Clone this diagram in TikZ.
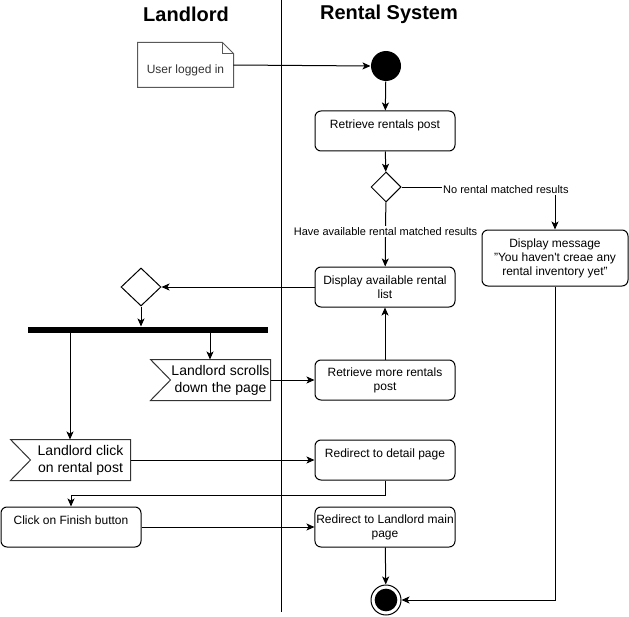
\documentclass[tikz,border=0pt]{standalone}
\usepackage{fontspec}
\setmainfont{Liberation Sans}
\usetikzlibrary{shapes.geometric,arrows.meta}

\tikzset{
  flow/.style={-{Stealth[length=6pt,width=5.25pt,inset=1.5pt]}},
  act/.style={draw, rounded corners=4.5pt, minimum width=105pt, minimum height=30pt, inner sep=1pt, align=center, font=\fontsize{9}{10.5}\selectfont},
  evt/.style={minimum width=74.25pt, minimum height=30pt, inner sep=0pt, align=center, font=\fontsize{10.5}{12.75}\selectfont},
  evtline/.style={draw=black!80},
  choice/.style={draw, diamond, inner sep=0pt, minimum width=22.5pt, minimum height=22.5pt},
  lbl/.style={fill=white, inner sep=1pt, font=\fontsize{8.25}{10}\selectfont},
  lane/.style={font=\fontsize{15}{18}\selectfont\bfseries},
}

\begin{document}
\begin{tikzpicture}[x=0.75pt, y=-0.75pt, line width=0.75pt]
\useasboundingbox (0,0) rectangle (629,617);

% swimlanes
\draw (281,0) -- (281,612);
\node[lane] (landlord) at (186,14) {Landlord};
\node[lane] (system) at (389,14) {Rental System};

% start note
\node[minimum width=71.25pt, minimum height=33pt, inner sep=0pt] (note) at (185.5,65) {};
\draw[draw=black!65] (note.south west) -- (note.north west) -- ([xshift=-8.25pt]note.north east) -- ([yshift=-8.25pt]note.north east) -- (note.south east) -- cycle;
\draw[draw=black!65] ([xshift=-8.25pt]note.north east) -- ([xshift=-8.25pt,yshift=-8.25pt]note.north east) -- ([yshift=-8.25pt]note.north east);
\node[font=\fontsize{9}{10.5}\selectfont, text=black!80] (notetext) at (185.5,70) {User logged in};

% rental system lane
\node[circle, fill=black, minimum size=22.5pt, inner sep=0pt] (start) at (386,66) {};
\node[act] (retrieve) at (385,131) {Retrieve rentals post\\\mbox{}};
\node[choice] (check) at (386,187) {};
\node[act, minimum width=109.5pt, minimum height=42pt] (msg) at (555,258) {Display message\\"You haven\textquotesingle t creae any\\rental inventory yet"};
\node[act] (list) at (385,287) {Display available rental\\list};
\node[act] (more) at (385,380) {Retrieve more rentals\\post};
\node[act] (detail) at (385,460) {Redirect to detail page\\\mbox{}};
\node[act] (main) at (385,527) {Redirect to Landlord main\\page};
\node[circle, draw, minimum size=22.5pt, inner sep=0pt, path picture={\fill (path picture bounding box.center) circle (8.5pt);}] (stop) at (386,600) {};

% landlord lane
\node[choice, minimum width=30pt, minimum height=28.5pt] (merge) at (141,287) {};
\node[fill=black, minimum width=180pt, minimum height=4.5pt, inner sep=0pt] (bar) at (148,330) {};
\coordinate (barL) at (70,330);
\coordinate (barR) at (210,330);
\node[evt] (scroll) at (220.5,380) {Landlord scrolls\\down the page};
\draw[evtline] ([xshift=-15pt]scroll.north west) -- (scroll.north east) -- (scroll.south east) -- ([xshift=-15pt]scroll.south west) -- (scroll.west) -- cycle;
\node[evt] (click) at (80.5,460) {Landlord click\\on rental post};
\draw[evtline] ([xshift=-15pt]click.north west) -- (click.north east) -- (click.south east) -- ([xshift=-15pt]click.south west) -- (click.west) -- cycle;
\node[act] (finish) at (71,527) {Click on Finish button\\\mbox{}};

% flows
\draw[flow] (note.east) -- (start.west);
\draw[flow] (start) -- (retrieve);
\draw[flow] (retrieve) -- (check);
\draw[flow] (check.east) -- node[lbl, pos=0.68, yshift=-2pt] {No rental matched results} (check.east -| msg.north) -- (msg.north);
\draw[flow] (check) -- node[lbl, pos=0.45] {Have available rental matched results} (list);
\draw[flow] (list) -- (merge);
\draw[flow] (merge) -- (merge |- bar.north);
\draw[flow] (barR) -- (barR |- scroll.north);
\draw[flow] (barL) -- (barL |- click.north);
\draw[flow] (scroll) -- (more);
\draw[flow] (more) -- (list);
\draw[flow] (click) -- (detail);
\draw[flow] (detail.south) -- ++(0,15) -| (finish.north);
\draw[flow] (finish) -- (main);
\draw[flow] (main) -- (stop);
\draw[flow] (msg.south) |- (stop.east);
\end{tikzpicture}
\end{document}
